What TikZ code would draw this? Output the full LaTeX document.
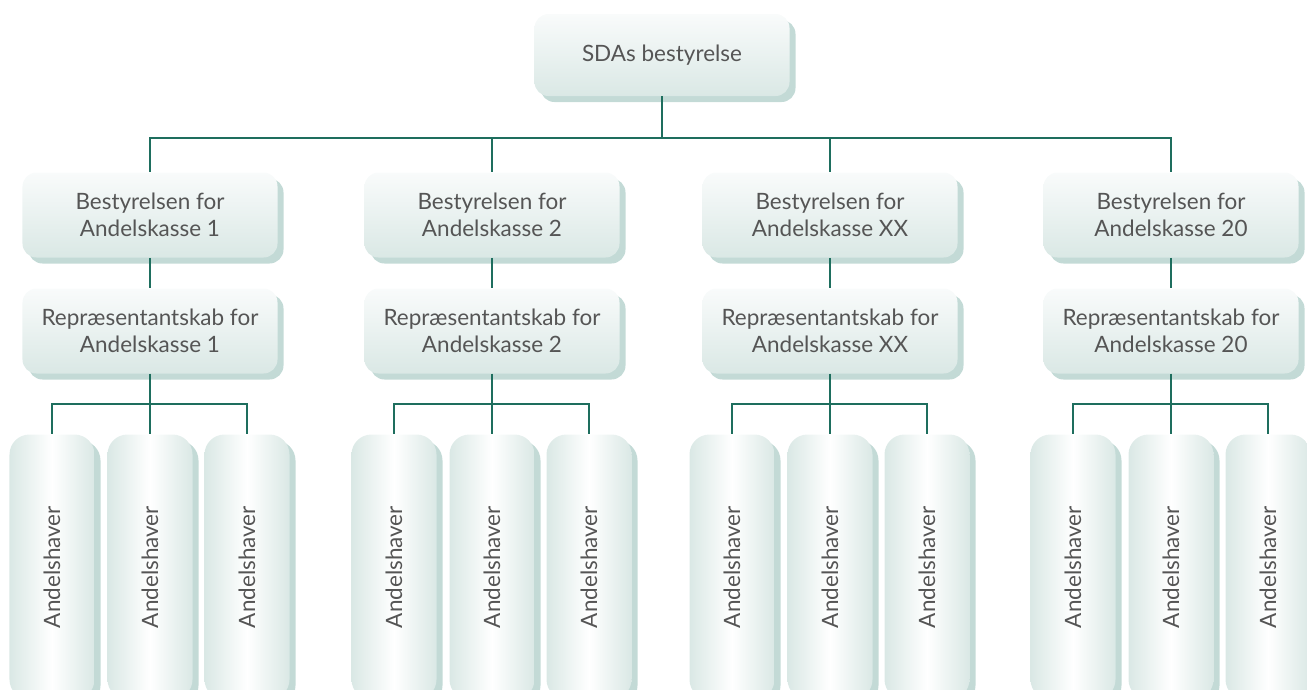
\documentclass[tikz,border=0pt]{standalone}
\usepackage{fontspec}
\setmainfont{Lato}
\usetikzlibrary{positioning}
\usetikzlibrary{shadows}
\definecolor{boxc}{HTML}{DAE8E5}
\definecolor{lite}{HTML}{F9FBFB}
\definecolor{shadc}{HTML}{A9CBC5}
\definecolor{linec}{HTML}{1E6E5E}
\definecolor{txt}{HTML}{555555}

\begin{document}
\begin{tikzpicture}[x=0.2mm,y=-0.2mm,
box/.style={rounded corners=2.8mm, top color=lite, bottom color=boxc,
  minimum width=51mm, minimum height=17mm, align=center, text=txt,
  font=\fontsize{12.8}{15.4}\selectfont,
  drop shadow={shadow xshift=1.2mm, shadow yshift=-1.2mm, fill=shadc, opacity=0.7}},
leaf/.style={box, rounded corners=4mm, left color=boxc, right color=boxc,
  middle color=white, minimum width=17mm, minimum height=53mm},
link/.style={draw=linec, line width=1pt}]

\path[use as bounding box] (0,0) rectangle (1307,689);
\clip (0,0) rectangle (1307,689);

\node[box, minimum height=16.4mm] (top) at (662,55) {SDAs bestyrelse};

\foreach \x/\n [count=\i] in {150/1,492/2,830/XX,1171/20}
{
\node[box] (b\i) at (\x,215) {Bestyrelsen for\\Andelskasse \n};
\node[box] (r\i) at (\x,331) {Repræsentantskab for\\Andelskasse \n};
\draw[link] (top.south) -- ++(0,42) -| (b\i.north);
\draw[link] (b\i.south) -- (r\i.north);
\foreach \j/\d in {1/-98,2/0,3/97}
{
\node[leaf] (l\i\j) at (\x+\d,567) {\rotatebox{90}{Andelshaver}};
\draw[link] (r\i.south) -- ++(0,30) -| (l\i\j.north);
}
}

\end{tikzpicture}
\end{document}
